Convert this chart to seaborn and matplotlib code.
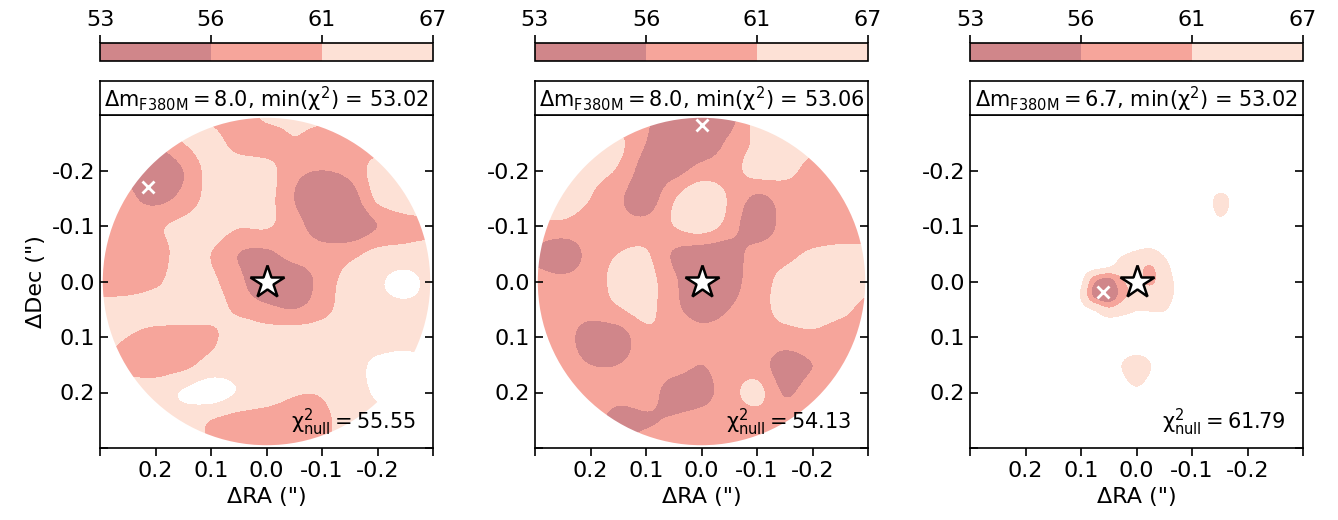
import numpy as np
import matplotlib
matplotlib.use('Agg')
import matplotlib.pyplot as plt
import matplotlib.patches as patches
from matplotlib.colors import ListedColormap, BoundaryNorm
from matplotlib.cm import ScalarMappable
import seaborn as sns

sns.set_style('ticks')
plt.rcParams['font.family'] = ['DejaVu Sans']
plt.rcParams['mathtext.default'] = 'regular'
for key in ['text.color', 'axes.labelcolor', 'xtick.color', 'ytick.color', 'axes.edgecolor']:
    plt.rcParams[key] = 'black'

# chi2 levels and colours
levels = [53, 56, 61, 67]
level_colors = ['#d0868a', '#f6a59b', '#fde1d6']

# grid of offsets (arcsec), rows top->bottom (dec), cols left->right (ra)
ra_grid = [0.3, 0.25, 0.2, 0.15, 0.1, 0.05, 0.0, -0.05, -0.1, -0.15, -0.2, -0.25, -0.3]
dec_grid = [-0.3, -0.25, -0.2, -0.15, -0.1, -0.05, 0.0, 0.05, 0.1, 0.15, 0.2, 0.25, 0.3]

chi2_a = [
    [60, 60, 62, 63, 60, 58, 62, 62, 62, 59, 59, 62, 63],
    [59, 58, 57, 61, 63, 59, 58.5, 60.5, 58.5, 59, 59, 61, 62],
    [59, 56, 51, 56, 63, 64, 63, 57.5, 56, 57.5, 63, 64, 64],
    [58, 57, 54.5, 57.5, 63, 65, 63, 56, 51.5, 53, 62, 64.5, 64],
    [58, 58, 60, 62.5, 64, 61.5, 61.5, 58, 53, 51.5, 56, 59, 60],
    [58, 57.5, 58.5, 63, 61, 56, 55, 58, 58, 59.5, 62.5, 63, 63],
    [58, 58, 60, 63.5, 62, 57.5, 51, 52, 58, 63, 66, 69, 65],
    [63, 63.5, 64, 64, 63, 60, 57.5, 56, 59, 64, 65, 65.5, 65],
    [62, 61, 59, 59, 60, 64, 63.5, 64, 64.5, 65, 64.5, 65, 65],
    [62, 59.5, 58.5, 59.5, 63, 64.5, 64.5, 64.5, 64, 65, 68, 69, 67],
    [64, 64, 64, 67.5, 70, 66.5, 64, 61.5, 61.5, 65, 67.5, 68.5, 68],
    [64, 64, 64, 64, 61, 59, 58.5, 58.5, 59.5, 64, 66, 67, 67],
    [64, 64, 64, 63, 61, 59, 59, 59, 60, 64, 66, 67, 67],
]

chi2_b = [
    [61, 61, 60, 58.5, 57, 51, 50, 53.5, 63, 63, 62, 60, 60],
    [62, 62, 61, 62, 56, 51, 52, 57, 62, 63.5, 62, 60, 60],
    [61, 62, 62, 60.5, 53.5, 54, 58, 59, 63, 62.5, 59.5, 59, 59],
    [62, 62.5, 61, 57, 53, 60.5, 65, 60.5, 55, 58, 58.5, 59, 59],
    [60, 60, 59, 58, 58, 61, 63.5, 59, 52, 58, 58.5, 59, 59],
    [55, 52, 58, 61, 61.5, 55.5, 53, 53, 58.5, 60, 61.5, 62, 62],
    [58, 57.5, 58.5, 62.5, 63, 57, 51, 53.5, 59, 62, 63, 63, 62],
    [58, 58, 58, 60.5, 62.5, 57.5, 53.5, 56, 59, 62.5, 63, 62, 60],
    [58, 58, 53.5, 53.5, 59.5, 60, 58, 58.5, 59, 59, 60, 59, 59],
    [58, 58, 56, 56, 58, 58, 56, 58.5, 58.5, 53.5, 56, 58.5, 59],
    [58, 58, 58, 57.5, 58, 54, 54, 59, 62.5, 55.5, 58.5, 59, 59],
    [58, 58, 58, 54.5, 55.5, 56.5, 58, 58.5, 59, 59, 59, 59, 59],
    [58, 58, 58, 57, 58, 58, 58.5, 58.5, 59, 59, 59, 59, 59],
]

chi2_c = [
    [70, 70, 70, 70, 70, 70, 70, 70, 70, 70, 70, 70, 70],
    [70, 70, 70, 70, 70, 70, 70, 70, 70, 70, 70, 70, 70],
    [70, 70, 70, 70, 70, 70, 70, 70, 70, 70, 70, 70, 70],
    [70, 70, 70, 70, 70, 70, 70, 70, 70, 66.6, 69, 70, 70],
    [70, 70, 70, 70, 70, 70, 70, 70, 70, 67.6, 69.5, 70, 70],
    [70, 70, 70, 70, 70, 70, 70, 70, 70, 70, 70, 70, 70],
    [70, 70, 70, 70, 70, 70, 70, 70, 70, 70, 70, 70, 70],
    [70, 70, 70, 70, 70, 70, 70, 70, 70, 70, 70, 70, 70],
    [70, 70, 70, 70, 70, 70, 70, 70, 70, 70, 70, 70, 70],
    [70, 70, 70, 70, 70, 68.5, 65.8, 68.5, 70, 70, 70, 70, 70],
    [70, 70, 70, 70, 70, 70, 67.5, 70, 70, 70, 70, 70, 70],
    [70, 70, 70, 70, 70, 70, 70, 70, 70, 70, 70, 70, 70],
    [70, 70, 70, 70, 70, 70, 70, 70, 70, 70, 70, 70, 70],
]

# finer sampling around the companion of the third fit
ra_fine = [0.125, 0.1, 0.075, 0.05, 0.025, 0.0, -0.025, -0.05, -0.075]
dec_fine = [-0.075, -0.05, -0.025, 0.0, 0.025, 0.05, 0.075]
chi2_c_fine = [
    [70, 70, 70, 70, 69.5, 68.5, 68, 68.5, 70],
    [70, 70, 69.5, 69, 67.5, 66.5, 66, 67.5, 70],
    [70, 70, 68.5, 67, 64.5, 63, 60.5, 65, 69],
    [70, 68, 57, 53.5, 60.5, 62.5, 60, 64, 68],
    [70, 66.5, 54.5, 51, 59, 63, 64, 64.5, 68],
    [70, 68.5, 66, 62, 64.5, 66.5, 66.5, 66.5, 69],
    [70, 70, 69.5, 69, 69, 69, 69, 69.5, 70],
]

dmag = ['8.0', '8.0', '6.7']
min_chi2 = ['53.02', '53.06', '53.02']
chi2_null = ['55.55', '54.13', '61.79']
best_ra = [0.214, 0.0, 0.060]
best_dec = [-0.171, -0.282, 0.019]

ticks = [0.3, 0.2, 0.1, 0.0, -0.1, -0.2, -0.3]
ra_labels = ['', '0.2', '0.1', '0.0', '-0.1', '-0.2', '']
dec_labels = ['', '-0.2', '-0.1', '0.0', '0.1', '0.2', '']

cmap = ListedColormap(sns.color_palette(level_colors))
cmap.set_over((1, 1, 1, 0))
cmap.set_under(level_colors[0])
norm = BoundaryNorm(levels, cmap.N)

W, H = 1338, 520
fig = plt.figure(figsize=(W / 100, H / 100), dpi=100)

lefts = [100, 535, 970]
size = 333
r_fov = 0.295


def extent_of(ra, dec):
    dra = abs(ra[1] - ra[0]) / 2
    ddec = abs(dec[1] - dec[0]) / 2
    return (ra[0] + dra, ra[-1] - dra, dec[-1] + ddec, dec[0] - ddec)


def draw_map(ax, values, ra, dec):
    im = ax.imshow(np.array(values, dtype=float), cmap=cmap, norm=norm,
                   extent=extent_of(ra, dec), origin='upper',
                   interpolation='catrom', interpolation_stage='data')
    im.set_clip_path(patches.Circle((0, 0), r_fov, transform=ax.transData))
    return im


for k, grid in enumerate([chi2_a, chi2_b, chi2_c]):
    x0 = lefts[k] / W
    ax = fig.add_axes([x0, (H - 448) / H, size / W, size / H])
    tax = fig.add_axes([x0, (H - 115) / H, size / W, 34 / H])
    cax = fig.add_axes([x0, (H - 61) / H, size / W, 18 / H])

    draw_map(ax, grid, ra_grid, dec_grid)
    if k == 2:
        draw_map(ax, chi2_c_fine, ra_fine, dec_fine)

    ax.plot([best_ra[k]], [best_dec[k]], marker='x', color='white', ms=8, mew=2, ls='none', zorder=5)
    ax.plot([0], [0], marker='*', color='white', mec='black', ms=25, mew=1.8, ls='none', zorder=6)

    ax.set_xlim(0.3, -0.3)
    ax.set_ylim(0.3, -0.3)
    ax.set_aspect('auto')
    ax.set_xticks(ticks)
    ax.set_xticklabels(ra_labels)
    ax.set_yticks([-t for t in ticks])
    ax.set_yticklabels(dec_labels)
    ax.tick_params(axis='x', direction='out', length=6, width=1.2, labelsize=16, top=False)
    ax.tick_params(axis='y', direction='in', length=6, width=1.2, labelsize=16, left=True, right=True)
    for s in ax.spines.values():
        s.set_linewidth(1.2)
    ax.set_xlabel('ΔRA (")', fontsize=16)
    if k == 0:
        ax.set_ylabel('ΔDec (")', fontsize=16)

    ax.text(0.95, 0.03, r'$\chi^2_{null} = %s$' % chi2_null[k], transform=ax.transAxes,
            ha='right', va='bottom', fontsize=15)

    tax.set_xticks([])
    tax.set_yticks([])
    for s in tax.spines.values():
        s.set_linewidth(1.2)
    tax.text(0.5, 0.45, r'$\Delta m_{F380M} = %s$, min($\chi^2$) = %s' % (dmag[k], min_chi2[k]),
             transform=tax.transAxes, ha='center', va='center', fontsize=15)

    cb = fig.colorbar(ScalarMappable(norm=norm, cmap=cmap), cax=cax, orientation='horizontal',
                      ticks=levels, spacing='uniform')
    cb.outline.set_linewidth(1.2)
    cax.xaxis.set_ticks_position('top')
    cax.tick_params(axis='x', direction='out', length=6, width=1.2, labelsize=16)

fig.savefig('out.png', dpi=100)
